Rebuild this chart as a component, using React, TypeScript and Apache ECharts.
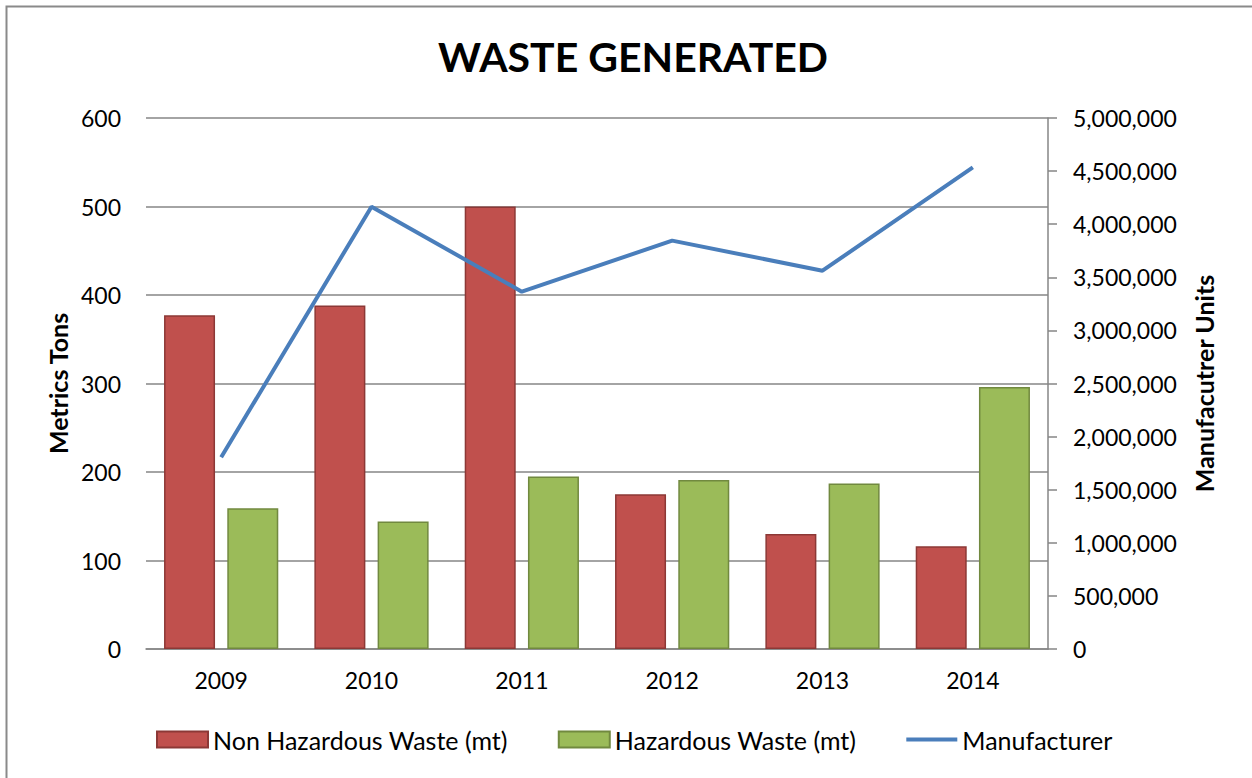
import React, { useEffect, useRef } from "react";
import * as echarts from "echarts";

const title = "WASTE GENERATED";
const years = ["2009", "2010", "2011", "2012", "2013", "2014"];
const nonHazardous = [377, 388, 500, 175, 130, 116];
const hazardous = [159, 144, 195, 191, 187, 296];
const manufacturer = [1805000, 4165000, 3365000, 3845000, 3562000, 4536000];
const leftAxisName = "Metrics Tons";
const rightAxisName = "Manufacutrer Units";
const seriesNames = ["Non Hazardous Waste (mt)", "Hazardous Waste (mt)", "Manufacturer"];

const FONT = "Lato";
const GRAY = "#868686";

export default function App() {
  const ref = useRef<HTMLDivElement>(null);
  useEffect(() => {
    if (!ref.current) return;
    const chart = echarts.init(ref.current, null, { renderer: "svg" });
    chart.setOption({
      animation: false,
      backgroundColor: "#ffffff",
      textStyle: { fontFamily: FONT, color: "#000" },
      title: {
        text: title,
        left: 433,
        top: 31,
        textStyle: { fontFamily: FONT, fontSize: 41, fontWeight: "bold", color: "#000" },
      },
      graphic: [
        {
          type: "rect",
          shape: { x: 6.5, y: 6.5, width: 1280, height: 800 },
          style: { fill: "none", stroke: "#8a8a8a", lineWidth: 2 },
          silent: true,
        },
      ],
      grid: { left: 146, right: 204, top: 118, bottom: 129 },
      legend: {
        left: 151,
        top: 722,
        itemWidth: 51,
        itemHeight: 16,
        itemGap: 50,
        textStyle: { fontFamily: FONT, fontSize: 25, color: "#000" },
        data: [
          { name: seriesNames[0], icon: "rect" },
          { name: seriesNames[1], icon: "rect" },
          { name: seriesNames[2], icon: "path://M0,0L51,0L51,4L0,4Z" },
        ],
      },
      xAxis: {
        type: "category",
        data: years,
        axisLine: { show: true, lineStyle: { color: GRAY, width: 1.5 } },
        axisTick: { show: false },
        axisLabel: { fontFamily: FONT, fontSize: 23, color: "#000", margin: 19 },
      },
      yAxis: [
        {
          type: "value",
          min: 0,
          max: 600,
          interval: 100,
          name: leftAxisName,
          nameLocation: "middle",
          nameGap: 74,
          nameTextStyle: { fontFamily: FONT, fontSize: 25, fontWeight: "bold", color: "#000" },
          axisLine: { show: false },
          axisTick: { show: false },
          axisLabel: { fontFamily: FONT, fontSize: 23, color: "#000", margin: 25 },
          splitLine: { show: true, lineStyle: { color: GRAY, width: 1.5 } },
        },
        {
          type: "value",
          min: 0,
          max: 5000000,
          interval: 500000,
          position: "right",
          name: rightAxisName,
          nameLocation: "middle",
          nameGap: 143,
          nameRotate: 90,
          nameTextStyle: { fontFamily: FONT, fontSize: 25, fontWeight: "bold", color: "#000" },
          axisLine: { show: true, lineStyle: { color: GRAY, width: 1.5 } },
          axisTick: { show: true, length: 9, inside: false, lineStyle: { color: GRAY, width: 1.5 } },
          axisLabel: {
            fontFamily: FONT,
            fontSize: 23,
            color: "#000",
            margin: 25,
            formatter: (v: number) => v.toLocaleString("en-US"),
          },
          splitLine: { show: false },
        },
      ],
      series: [
        {
          name: seriesNames[0],
          type: "bar",
          yAxisIndex: 0,
          data: nonHazardous,
          barWidth: 51,
          barGap: "24%",
          itemStyle: { color: "#C0504D", borderColor: "#8C3836", borderWidth: 1.5 },
        },
        {
          name: seriesNames[1],
          type: "bar",
          yAxisIndex: 0,
          data: hazardous,
          barWidth: 51,
          barGap: "24%",
          itemStyle: { color: "#9BBB59", borderColor: "#71893F", borderWidth: 1.5 },
        },
        {
          name: seriesNames[2],
          type: "line",
          yAxisIndex: 1,
          data: manufacturer,
          symbol: "none",
          lineStyle: { color: "#4A7EBB", width: 4 },
          itemStyle: { color: "#4A7EBB" },
        },
      ],
    });
    return () => chart.dispose();
  }, []);
  return (
    <div
      ref={ref}
      style={{ position: "fixed", left: 0, top: 0, width: 1252, height: 778 }}
    />
  );
}
